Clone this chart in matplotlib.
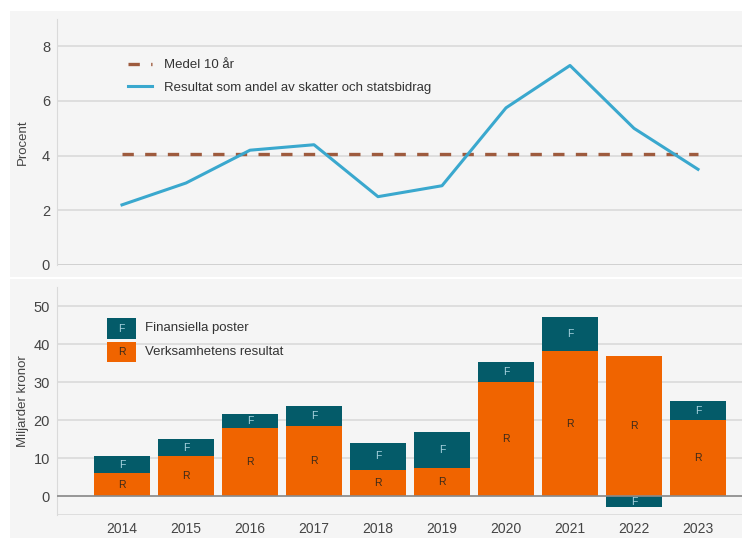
import matplotlib
matplotlib.use("Agg")
import matplotlib.pyplot as plt
from matplotlib.patches import Rectangle
import numpy as np

plt.rcParams['font.family'] = ['Liberation Sans', 'DejaVu Sans']

years = ['2014', '2015', '2016', '2017', '2018', '2019', '2020', '2021', '2022', '2023']
andel = [2.2, 3.0, 4.2, 4.4, 2.5, 2.9, 5.75, 7.3, 5.0, 3.5]
medel = [4.06] * 10
verksamhet = [6.0, 10.5, 18.0, 18.4, 6.8, 7.5, 30.0, 38.1, 36.9, 19.9]
finansiella = [4.5, 4.4, 3.6, 5.4, 7.2, 9.4, 5.2, 8.9, -3.0, 5.0]

ORANGE = '#F06400'
TEAL = '#045B69'
BLUE = '#3AA8CE'
BROWN = '#9E5B3E'
GRID = '#dadada'
PANEL = '#f5f5f5'
TXT = '#444444'
FS = 9.5

W, H = 742, 538
fig = plt.figure(figsize=(W / 100, H / 100), dpi=100)
fig.patch.set_facecolor('white')

def fx(px):
    return px / W

def fy(py):
    return 1 - py / H

# gray panels (behind axes)
fig.patches.append(Rectangle((fx(10), fy(276.5)), 1 - fx(10), fy(11) - fy(276.5),
                             transform=fig.transFigure, facecolor=PANEL, edgecolor='none', zorder=-10))
fig.patches.append(Rectangle((fx(10), 0), 1 - fx(10), fy(279),
                             transform=fig.transFigure, facecolor=PANEL, edgecolor='none', zorder=-10))

x = np.arange(len(years))
xl = (-65 / 64, -65 / 64 + 685 / 64)
label_x = (29 - 57) / 685

# ---------- top panel ----------
ax1 = fig.add_axes([fx(57), fy(265), 1 - fx(57), fy(19) - fy(265)])
ax1.set_zorder(1)
ax1.set_facecolor('none')
ax1.set_xlim(*xl)
ax1.set_ylim(0, 9)
ax1.set_yticks([0, 2, 4, 6, 8])
ax1.set_xticks([])
for s in ['top', 'right', 'bottom']:
    ax1.spines[s].set_visible(False)
ax1.spines['left'].set_color(GRID)
ax1.grid(axis='y', color=GRID, lw=1.2)
ax1.set_axisbelow(True)
ax1.axhline(0, color='#cfcfcf', lw=1.2, zorder=1)
ax1.tick_params(axis='y', length=0, labelsize=FS + 1, labelcolor=TXT, pad=5)
ax1.set_ylabel('Procent', fontsize=FS, color=TXT)
ax1.yaxis.set_label_coords(label_x, 0.5)

ax1.plot(x, medel, color=BROWN, lw=2.4, dashes=(3.4, 3.4), label='Medel 10 år', zorder=3)
ax1.plot(x, andel, color=BLUE, lw=2.2, label='Resultat som andel av skatter och statsbidrag', zorder=4)
leg = ax1.legend(loc='upper left', bbox_to_anchor=((128 - 57) / (742 - 57), (265 - 59) / 246),
                 frameon=False, fontsize=FS, handlelength=1.8, handletextpad=0.9,
                 labelspacing=0.8, borderaxespad=0, borderpad=0)
for t in leg.get_texts():
    t.set_color('#333333')

# ---------- bottom panel ----------
ax2 = fig.add_axes([fx(57), fy(515), 1 - fx(57), fy(287) - fy(515)])
ax2.set_zorder(1)
ax2.set_facecolor('none')
ax2.set_xlim(*xl)
ax2.set_ylim(-5, 55)
ax2.set_yticks([0, 10, 20, 30, 40, 50])
ax2.set_xticks(x)
ax2.set_xticklabels(years)
for s in ['top', 'right', 'bottom']:
    ax2.spines[s].set_visible(False)
ax2.spines['left'].set_color(GRID)
ax2.grid(axis='y', color=GRID, lw=1.2)
ax2.set_axisbelow(True)
ax2.axhline(-5, color=GRID, lw=1.2, zorder=1)
ax2.tick_params(axis='y', length=0, labelsize=FS + 1, labelcolor=TXT, pad=5)
ax2.tick_params(axis='x', length=0, labelsize=FS + 0.5, labelcolor=TXT, pad=5)
ax2.set_ylabel('Miljarder kronor', fontsize=FS, color=TXT)
ax2.yaxis.set_label_coords(label_x, 0.5)

bw = 0.89
verk = np.array(verksamhet)
fin = np.array(finansiella)
fin_bottom = np.where(fin >= 0, verk, 0)
ax2.bar(x, verk, width=bw, color=ORANGE, zorder=3)
ax2.bar(x, fin, bottom=fin_bottom, width=bw, color=TEAL, zorder=3)
ax2.axhline(0, color='#8a8a8a', lw=1.2, zorder=4)

for xi, v, f, fb in zip(x, verk, fin, fin_bottom):
    ax2.text(xi, v / 2, 'R', ha='center', va='center', fontsize=7.5, color='#3a2a1a', zorder=5)
    ax2.text(xi, fb + f / 2, 'F', ha='center', va='center', fontsize=7.5, color='#a9d3e0', zorder=5)

# legend (custom boxes)
lx0, lw_ = fx(107), fx(136) - fx(107)
for (y0, y1, col, letter, lab, lc) in [(318, 339, TEAL, 'F', 'Finansiella poster', '#a9d3e0'),
                                       (342, 362, ORANGE, 'R', 'Verksamhetens resultat', '#3a2a1a')]:
    fig.patches.append(Rectangle((lx0, fy(y1)), lw_, fy(y0) - fy(y1), transform=fig.transFigure,
                                 facecolor=col, edgecolor='none', zorder=5))
    fig.text(lx0 + lw_ / 2, fy((y0 + y1) / 2), letter, ha='center', va='center', fontsize=7.5, color=lc, zorder=6)
    fig.text(fx(145), fy((y0 + y1) / 2), lab, ha='left', va='center', fontsize=FS, color='#333333', zorder=6)

fig.savefig('out.png', dpi=100, facecolor=fig.get_facecolor())
